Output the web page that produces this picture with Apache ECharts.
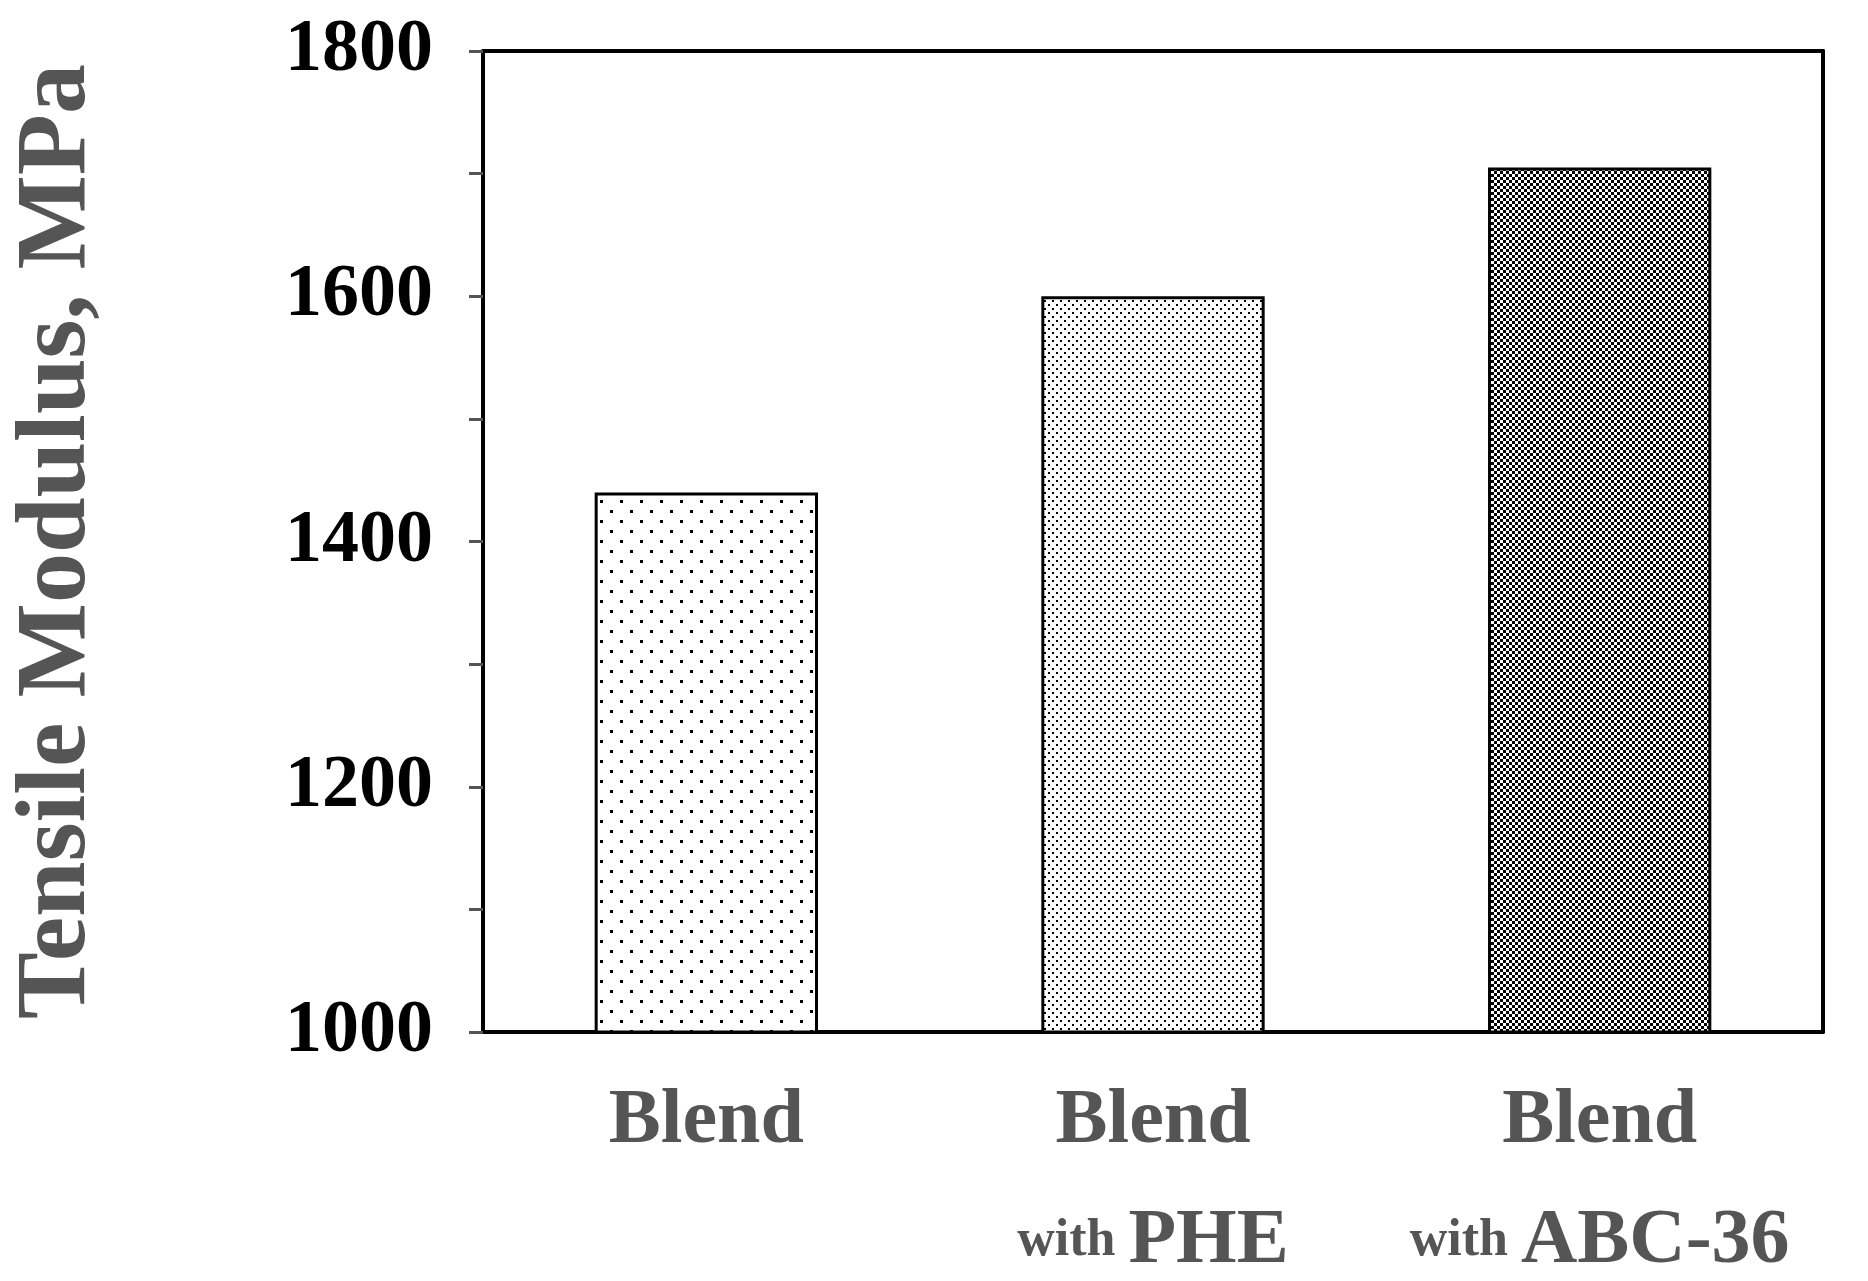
<!DOCTYPE html>
<html>
<head>
<meta charset="utf-8">
<script src="https://cdn.jsdelivr.net/npm/echarts@6/dist/echarts.min.js"></script>
<style>html,body{margin:0;background:#fff}#main{width:1868px;height:1281px}</style>
</head>
<body>
<div id="main"></div>
<script>
var categories = ['Blend', 'Blend with PHE', 'Blend with ABC-36'];
var modulus = [1440, 1600, 1705];
var yTicks = [1000, 1200, 1400, 1600, 1800];

/*点状填充图案*/
function dots(step, r, bg, fg) {
	var c = document.createElement('canvas');
	c.width = step; c.height = step;
	var ctx = c.getContext('2d');
	ctx.fillStyle = bg;
	ctx.fillRect(0, 0, step, step);
	ctx.fillStyle = fg;
	ctx.fillRect(0, 0, r, r);
	ctx.fillRect(step / 2, step / 2, r, r);
	return c;
}
var patterns = [dots(20, 3, '#fff', '#000'), dots(8, 2, '#fff', '#000'), dots(6, 3, '#000', '#fff')];

var labelRich = {
	big: { fontFamily: 'Liberation Serif', fontWeight: 'bold', fontSize: 78, color: '#555', lineHeight: 120 },
	small: { fontFamily: 'Liberation Serif', fontWeight: 'bold', fontSize: 52, color: '#555' }
};

var myChart = echarts.init(document.getElementById('main'));
myChart.setOption({
	animation: false,
	grid: { left: 462, right: 24, top: 51, bottom: 233 },
	grid: { left: 462, right: 45, top: 51, bottom: 232 },
	xAxis: [{
		type: 'category',
		data: categories,
		axisLine: { lineStyle: { color: '#000', width: 4 } },
		axisTick: { show: false },
		axisLabel: {
			margin: 30,
			formatter: function(v) {
				if (v === 'Blend') return '{big|Blend}';
				var rest = v.replace('Blend with ', '');
				return '{big|Blend}\n{small|with }{big|' + rest + '}';
			},
			rich: labelRich
		}
	}, {
		type: 'category', position: 'top', data: categories,
		axisLine: { lineStyle: { color: '#000', width: 4 } },
		axisTick: { show: false }, axisLabel: { show: false }
	}],
	yAxis: [{
		type: 'value', min: 1000, max: 1800, interval: 200,
		name: 'Tensile Modulus, MPa',
		nameLocation: 'middle', nameGap: 375,
		nameTextStyle: { fontFamily: 'Liberation Serif', fontWeight: 'bold', fontSize: 100, color: '#555' },
		splitLine: { show: false },
		axisLine: { show: true, lineStyle: { color: '#000', width: 4 } },
		axisTick: { show: true, length: 14, lineStyle: { color: '#555', width: 3 } },
		minorTick: { show: true, splitNumber: 2, length: 14, lineStyle: { color: '#555', width: 3 } },
		axisLabel: {
			margin: 50, fontFamily: 'Liberation Serif', fontWeight: 'bold', fontSize: 74, color: '#000',
			formatter: function(v) { return String(v); }
		}
	}, {
		type: 'value', min: 1000, max: 1800, interval: 200, position: 'right',
		splitLine: { show: false },
		axisLine: { show: true, lineStyle: { color: '#000', width: 4 } },
		axisTick: { show: false }, axisLabel: { show: false }
	}],
	series: [{
		type: 'bar',
		barWidth: '50%',
		data: modulus.map(function(v, i) {
			return {
				value: v,
				itemStyle: { color: { image: patterns[i], repeat: 'repeat' }, borderColor: '#000', borderWidth: 3 }
			};
		})
	}]
});
</script>
</body>
</html>
